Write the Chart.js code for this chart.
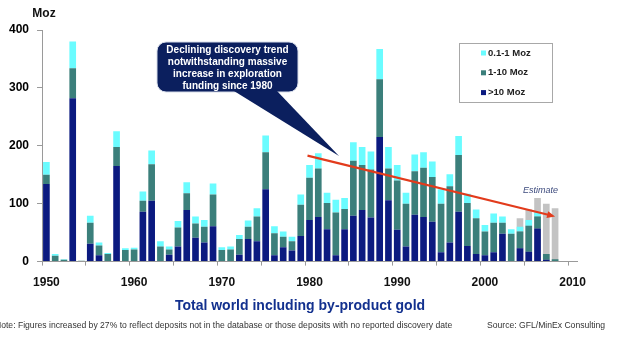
<!DOCTYPE html>
<html>
<head>
<meta charset="utf-8">
<script src="https://cdn.jsdelivr.net/npm/chart.js@4.4.0/dist/chart.umd.min.js"></script>
<style>
  html, body { margin: 0; padding: 0; background: #fff; }
  #wrap { width: 622px; height: 338px; }
</style>
</head>
<body>
<div id="wrap"><canvas id="chart" width="622" height="338"></canvas></div>
<script>
// discovery years, 1950 through 2010 (last two are empty)
const years = [];
for (let y = 1950; y <= 2010; y++) years.push(String(y));

// Moz discovered per year, by deposit size
const over10 = [134, 0, 0, 282, 0, 31, 11, 0, 165, 0,
                0, 86, 105, 0, 12, 26, 89, 41, 33, 61,
                0, 0, 12, 39, 35, 125, 11, 25, 19, 44,
                72, 77, 56, 11, 56, 79, 89, 76, 215, 106,
                55, 26, 81, 77, 69, 16, 33, 86, 27, 13,
                11, 16, 48, 0, 23, 17, 57, 3, 0, null, null];
const from1to10 = [16, 10, 3, 52, 1.5, 36, 17, 13, 33, 20,
                   21, 19, 63, 26, 9, 33, 29, 25, 27, 55,
                   20, 21, 27, 21, 43, 64, 38, 18, 16, 54,
                   73, 84, 45, 74, 35, 95, 78, 83, 100, 55,
                   85, 74, 75, 85, 77, 84, 97, 98, 74, 62,
                   41, 51, 19, 48, 29, 45, 21, 10, 4, null, null];
const from01to1 = [22, 3, 1, 46, 0, 12, 5, 2, 27, 3,
                   3, 16, 24, 9, 5, 11, 19, 12, 12, 19,
                   5, 5, 7, 11, 14, 29, 12, 9, 8, 18,
                   22, 26, 18, 22, 19, 32, 31, 31, 52, 37,
                   27, 19, 29, 27, 27, 25, 21, 33, 16, 15,
                   11, 16, 11, 8, 8, 10, 7, 0, 0, null, null];
// estimated totals for the most recent years
const estimate = [null, null, null, null, null, null, null, null, null, null,
                  null, null, null, null, null, null, null, null, null, null,
                  null, null, null, null, null, null, null, null, null, null,
                  null, null, null, null, null, null, null, null, null, null,
                  null, null, null, null, null, null, null, null, null, null,
                  null, null, null, null, 75, 90, 110, 100, 92, null, null];

const yTicks = [0, 100, 200, 300, 400];
// trend arrow: [year index, Moz]
const trendFrom = [30, 183];
const trendTo = [58, 78];

const NAVY = '#0b1a80';
const TEAL = '#3b7f7b';
const CYAN = '#6afcff';
const GREY = '#c3c3c3';
const AXIS = '#9a9a9a';
const FONT = '"Liberation Sans", Arial, sans-serif';

Chart.defaults.font.family = FONT;

const title = 'Total world including by-product gold';
const callout = ['Declining discovery trend', 'notwithstanding massive',
                 'increase in exploration', 'funding since 1980'];

const extras = {
  id: 'extras',
  afterDatasetsDraw(chart) {
    const ctx = chart.ctx;
    const xs = chart.scales.x, ys = chart.scales.y;
    const area = chart.chartArea;
    ctx.save();

    // trend arrow
    const x1 = xs.getPixelForValue(trendFrom[0]) - 2, y1 = ys.getPixelForValue(trendFrom[1]);
    const x2 = xs.getPixelForValue(trendTo[0]), y2 = ys.getPixelForValue(trendTo[1]);
    const ang = Math.atan2(y2 - y1, x2 - x1);
    ctx.strokeStyle = '#e23b1c';
    ctx.fillStyle = '#e23b1c';
    ctx.lineWidth = 2.2;
    ctx.beginPath();
    ctx.moveTo(x1, y1);
    ctx.lineTo(x2 - 5 * Math.cos(ang), y2 - 5 * Math.sin(ang));
    ctx.stroke();
    ctx.beginPath();
    ctx.moveTo(x2, y2);
    ctx.lineTo(x2 - 8 * Math.cos(ang) + 3.5 * Math.sin(ang), y2 - 8 * Math.sin(ang) - 3.5 * Math.cos(ang));
    ctx.lineTo(x2 - 8 * Math.cos(ang) - 3.5 * Math.sin(ang), y2 - 8 * Math.sin(ang) + 3.5 * Math.cos(ang));
    ctx.closePath();
    ctx.fill();

    // "Estimate" tag over the grey bars
    ctx.fillStyle = '#3d4b7e';
    ctx.font = 'italic 9px ' + FONT;
    ctx.textAlign = 'center';
    ctx.textBaseline = 'middle';
    ctx.fillText('Estimate', xs.getPixelForValue(56) + 3, ys.getPixelForValue(122));

    // callout with pointer
    ctx.fillStyle = '#0b1f5e';
    ctx.strokeStyle = '#d5dbe8';
    ctx.lineWidth = 1;
    ctx.beginPath();
    ctx.roundRect(157, 42, 141, 50, 9);
    ctx.fill();
    ctx.stroke();
    ctx.beginPath();
    ctx.moveTo(234, 91);
    ctx.lineTo(277, 91);
    ctx.lineTo(339, 156);
    ctx.closePath();
    ctx.fill();
    ctx.fillStyle = '#ffffff';
    ctx.font = 'bold 10px ' + FONT;
    callout.forEach((t, i) => ctx.fillText(t, 227.5, 50 + i * 12.2));

    // legend box
    ctx.fillStyle = '#ffffff';
    ctx.strokeStyle = '#a8a8a8';
    ctx.fillRect(459, 43, 93, 59);
    ctx.strokeRect(459.5, 43.5, 93, 59);
    const sets = chart.data.datasets.filter(d => d.stack === 'found').slice().reverse();
    ctx.font = 'bold 9.5px ' + FONT;
    ctx.textAlign = 'left';
    sets.forEach((d, i) => {
      const cy = 53 + i * 19.8;
      ctx.fillStyle = d.backgroundColor;
      ctx.fillRect(481, cy - 2.5, 5, 5);
      ctx.fillStyle = '#222';
      ctx.fillText(d.label, 488, cy);
    });

    // unit label
    ctx.fillStyle = '#111';
    ctx.font = 'bold 12px ' + FONT;
    ctx.textAlign = 'center';
    ctx.fillText('Moz', area.left + 2, 14);

    // title under the axis
    ctx.fillStyle = '#12308e';
    ctx.font = 'bold 14px ' + FONT;
    ctx.fillText(title, 300, 306);

    // footnotes
    ctx.fillStyle = '#333';
    ctx.font = '8.6px ' + FONT;
    ctx.textAlign = 'left';
    ctx.fillText('Note: Figures increased by 27% to reflect deposits not in the database or those deposits with no reported discovery date', -5, 326);
    ctx.textAlign = 'right';
    ctx.fillText('Source: GFL/MinEx Consulting', 605, 326);
    ctx.restore();
  }
};

new Chart(document.getElementById('chart'), {
  type: 'bar',
  data: {
    labels: years,
    datasets: [
      { label: '>10 Moz', data: over10, backgroundColor: NAVY, stack: 'found', order: 1 },
      { label: '1-10 Moz', data: from1to10, backgroundColor: TEAL, stack: 'found', order: 1 },
      { label: '0.1-1 Moz', data: from01to1, backgroundColor: CYAN, stack: 'found', order: 1 },
      { label: 'Estimate', data: estimate, backgroundColor: GREY, stack: 'estimate', grouped: false, order: 2 }
    ]
  },
  options: {
    responsive: false,
    animation: false,
    categoryPercentage: 1,
    barPercentage: 0.76,
    layout: { padding: { left: 1, right: 45, top: 30, bottom: 38 } },
    plugins: {
      legend: { display: false },
      tooltip: { enabled: false }
    },
    scales: {
      x: {
        stacked: true,
        offset: true,
        grid: {
          offset: true,
          drawOnChartArea: false,
          tickLength: 4,
          color: c => (c.index % 5 === 0 ? AXIS : 'rgba(0,0,0,0)')
        },
        border: { color: AXIS },
        ticks: {
          autoSkip: false,
          maxRotation: 0,
          padding: 10,
          color: '#111',
          font: { size: 12, weight: 'bold' },
          callback: (v, i) => (Number(years[i]) % 10 === 0 ? years[i] : '')
        }
      },
      y: {
        stacked: true,
        min: yTicks[0],
        max: yTicks[yTicks.length - 1],
        afterBuildTicks: s => { s.ticks = yTicks.map(v => ({ value: v })); },
        grid: { drawOnChartArea: false, tickLength: 5, color: AXIS },
        border: { color: AXIS },
        ticks: { padding: 8, color: '#000', font: { size: 12, weight: 'bold' } }
      }
    }
  },
  plugins: [extras]
});
</script>
</body>
</html>
